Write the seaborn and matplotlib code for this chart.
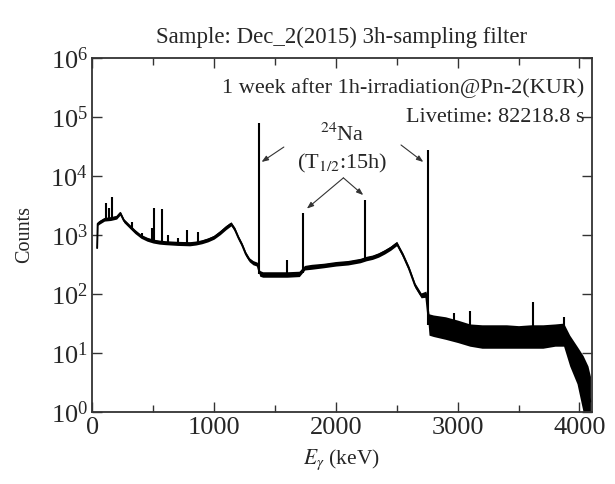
import numpy as np
import pandas as pd
import matplotlib
matplotlib.use("Agg")
import matplotlib.pyplot as plt
from matplotlib.ticker import MultipleLocator, LogLocator, NullLocator
import seaborn as sns

# continuum of the gamma spectrum, with the noise band
energy_kev = [40, 45, 60, 100, 150, 200, 230, 260, 300, 350, 400, 450, 500, 550, 600,
              650, 700, 750, 800, 850, 900, 950, 1000, 1050, 1100, 1140, 1170, 1200,
              1230, 1260, 1290, 1320, 1355, 1375, 1400, 1500, 1600, 1700, 1745, 1800,
              1900, 2000, 2100, 2200, 2250, 2300, 2350, 2400, 2450, 2500, 2520, 2550,
              2600, 2650, 2700, 2740, 2765, 2800, 2900, 3000, 3100, 3200, 3300, 3400,
              3500, 3600, 3700, 3800, 3870, 3920, 3980, 4030, 4070, 4090]
counts_mid = [600, 1550, 1650, 1850, 1900, 2000, 2350, 1750, 1450, 1150, 950, 850, 790, 760, 740,
              730, 720, 715, 710, 730, 770, 830, 920, 1100, 1350, 1550, 1250, 900,
              680, 480, 380, 340, 320, 225, 215, 215, 215, 220, 280, 290,
              305, 325, 340, 370, 400, 420, 460, 520, 600, 720, 600, 460,
              270, 140, 95, 100, 32, 30, 28, 24, 21, 20, 20, 20,
              19, 20, 20, 21, 21, 12, 7, 4, 2, 1.5]
counts_lo = [570, 1450, 1530, 1720, 1760, 1860, 2180, 1620, 1340, 1060, 880, 785, 730, 700, 685,
             675, 665, 660, 655, 675, 710, 765, 850, 1010, 1240, 1430, 1150, 830,
             625, 440, 350, 312, 295, 200, 192, 192, 192, 197, 255, 262,
             278, 297, 310, 338, 365, 385, 420, 475, 550, 660, 550, 420,
             245, 127, 86, 88, 20, 19, 17, 15, 13, 12, 12, 12,
             12, 12, 12, 13, 13, 6, 3, 1, 1, 1]
counts_hi = [630, 1650, 1770, 1980, 2040, 2150, 2520, 1880, 1560, 1240, 1020, 915, 850, 820, 800,
             790, 780, 775, 770, 790, 830, 895, 990, 1190, 1460, 1670, 1350, 970,
             735, 520, 410, 368, 345, 250, 238, 238, 238, 243, 305, 318,
             332, 355, 370, 402, 435, 457, 500, 565, 650, 780, 650, 500,
             295, 153, 104, 112, 46, 44, 41, 36, 31, 30, 30, 30,
             29, 30, 30, 31, 32, 20, 13, 9, 6, 4]

# photopeaks: energy, top and foot of each line
peak_kev = [110, 140, 163, 326, 407, 490, 511, 570, 620, 700, 780, 865,
            1369, 1600, 1732, 2243, 2754, 2970, 3100, 3620, 3870]
peak_top = [3500, 2900, 4400, 1650, 1100, 1300, 2900, 2750, 1000, 890, 1230, 1130,
            80000, 380, 2400, 3900, 28000, 48, 51, 73, 41]
peak_base = [1850, 1880, 1900, 1250, 950, 800, 790, 760, 740, 720, 710, 730,
             220, 215, 230, 385, 30, 26, 22, 20, 21]

df = pd.DataFrame({"E": energy_kev, "counts": counts_mid,
                   "lo": counts_lo, "hi": counts_hi})

sns.set_style("ticks")
plt.rcParams["font.family"] = ["Liberation Serif", "DejaVu Serif"]
plt.rcParams["mathtext.fontset"] = "stix"

fig, ax = plt.subplots(figsize=(6.15, 4.84), dpi=100)
fig.subplots_adjust(left=0.150, right=0.962, top=0.880, bottom=0.149)

ax.fill_between(df["E"], df["lo"], df["hi"], color="black", lw=0)
sns.lineplot(data=df, x="E", y="counts", color="black", lw=1.4,
             estimator=None, sort=False, ax=ax)
ax.vlines(peak_kev, peak_base, peak_top, color="black", lw=1.5)

ax.set_yscale("log")
ax.set_xlim(0, 4100)
ax.set_ylim(1, 1e6)
ax.xaxis.set_major_locator(MultipleLocator(1000))
ax.xaxis.set_minor_locator(MultipleLocator(500))
ax.yaxis.set_major_locator(LogLocator(base=10, numticks=10))
ax.yaxis.set_minor_locator(NullLocator())
ax.tick_params(which="both", direction="in", top=True, right=True,
               labelsize=19, width=1.0, color="#333333")
ax.tick_params(which="major", length=7)
ax.tick_params(which="minor", length=5)
ax.tick_params(axis="y", pad=3)
ax.tick_params(axis="x", pad=4)
for s in ax.spines.values():
    s.set_linewidth(1.3)
    s.set_color("#333333")

ax.set_xlabel(r"$E_{\gamma}$ (keV)", fontsize=15.5, labelpad=6)
ax.set_ylabel("Counts", fontsize=14.5, labelpad=12)
ax.set_title("Sample: Dec_2(2015) 3h-sampling filter", fontsize=16.5, pad=11)

ax.text(0.985, 0.915, "1 week after 1h-irradiation@Pn-2(KUR)", transform=ax.transAxes,
        ha="right", va="center", fontsize=16)
ax.text(0.985, 0.833, "Livetime: 82218.8 s", transform=ax.transAxes,
        ha="right", va="center", fontsize=16)

ax.text(2054, 49500, r"$^{24}$Na", ha="center", va="center", fontsize=16)
ax.text(2054, 16600, r"(T$_{1/2}$:15h)", ha="center", va="center", fontsize=16)

arrow = dict(arrowstyle="-|>,head_length=0.4,head_width=0.15", color="#333333", lw=0.8,
             shrinkA=0, shrinkB=0)
ax.annotate("", xy=(1390, 17300), xytext=(1573, 31000), arrowprops=arrow)
ax.annotate("", xy=(2718, 17300), xytext=(2535, 33600), arrowprops=arrow)
ax.annotate("", xy=(1762, 2800), xytext=(2062, 9300), arrowprops=arrow)
ax.annotate("", xy=(2225, 4750), xytext=(2062, 9300), arrowprops=arrow)

fig.savefig("out.png", dpi=100)
